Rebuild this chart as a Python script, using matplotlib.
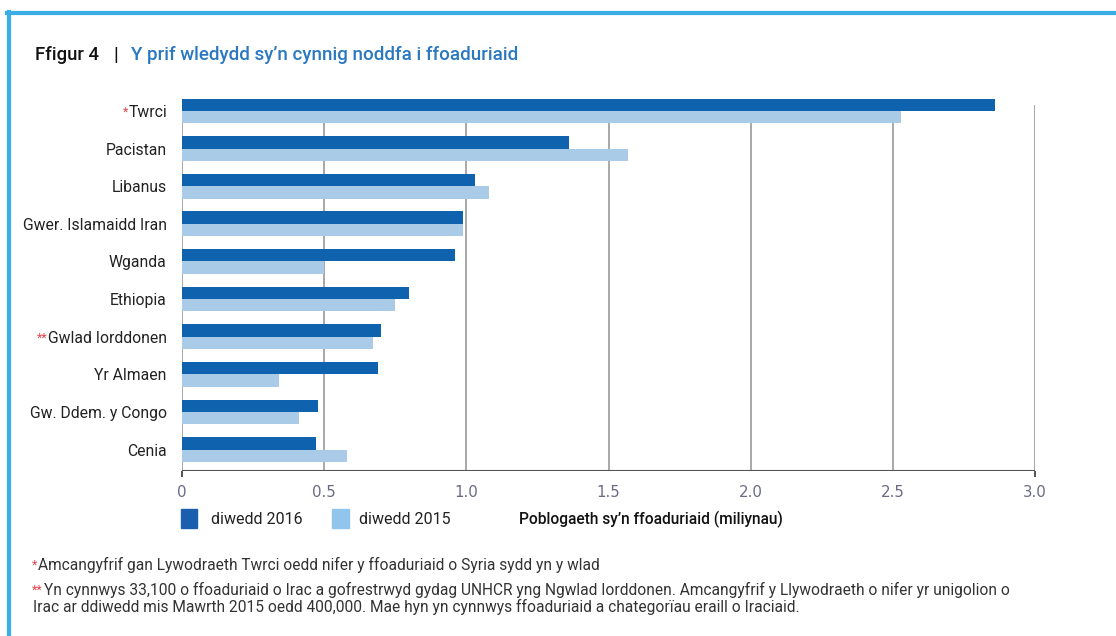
import matplotlib
matplotlib.use('Agg')
import matplotlib.pyplot as plt
import numpy as np

plt.rcParams['font.family'] = ['Roboto', 'DejaVu Sans']

countries = ['Twrci', 'Pacistan', 'Libanus', 'Gwer. Islamaidd Iran', 'Wganda',
             'Ethiopia', 'Gwlad Iorddonen', 'Yr Almaen', 'Gw. Ddem. y Congo', 'Cenia']
stars = ['*', '', '', '', '', '', '**', '', '', '']
end_2016 = [2.86, 1.36, 1.03, 0.99, 0.96, 0.80, 0.70, 0.69, 0.48, 0.47]
end_2015 = [2.53, 1.57, 1.08, 0.99, 0.50, 0.75, 0.67, 0.34, 0.41, 0.58]
xticks = [0, 0.5, 1.0, 1.5, 2.0, 2.5, 3.0]
xtick_labels = ['0', '0.5', '1.0', '1.5', '2.0', '2.5', '3.0']

dark = '#0f62ae'
light = '#a9cbe8'
red = '#e0474c'

W, H = 1116, 636
fig = plt.figure(figsize=(W / 100, H / 100), dpi=100)

# frame lines (left and top)
fig.add_artist(plt.Line2D([8.5 / W, 8.5 / W], [0, 1 - 12 / H], color='#3aaee6', lw=3))
fig.add_artist(plt.Line2D([7 / W, 1], [1 - 12.5 / H, 1 - 12.5 / H], color='#3aaee6', lw=3))

ax = fig.add_axes([182 / W, 1 - 471 / H, (1035 - 182) / W, (471 - 91) / H])

n = len(countries)
y = np.arange(n)[::-1]
h = 0.33
ax.barh(y + h / 2, end_2016, height=h, color=dark, zorder=3)
ax.barh(y - h / 2, end_2015, height=h, color=light, zorder=3)

ax.set_xlim(0, 3.0)
ax.set_ylim(-0.57, 9.53)
for xv in xticks:
    ax.vlines(xv, -0.57, 9.16, color='#9a9a9a', lw=1.2, zorder=1)
ax.vlines([0, 3.0], -0.72, -0.57, color='#444444', lw=1.3, clip_on=False)
ax.axhline(-0.57, color='#555555', lw=1.5, zorder=4)

for s in ax.spines.values():
    s.set_visible(False)
ax.set_xticks(xticks)
ax.set_xticklabels(xtick_labels, color='#6a6a85', fontsize=10.8, family='DejaVu Sans')
ax.tick_params(axis='x', length=0, pad=10)
ax.set_yticks(y)
ax.set_yticklabels(countries, fontsize=11.3, color='#222222')
ax.tick_params(axis='y', length=0, pad=11)

fig.canvas.draw()
for lab, st in zip(ax.get_yticklabels(), stars):
    if st:
        ax.annotate(st, xy=(0, 0.5), xycoords=lab, ha='right', va='center',
                    fontsize=9, color=red)

# title
fig.text(35 / W, 1 - 55 / H, 'Ffigur 4', fontsize=13.3, fontweight='medium',
         color='#111111', va='center')
fig.text(113 / W, 1 - 55 / H, '|', fontsize=13.3, fontweight='medium',
         color='#111111', va='center')
fig.text(131 / W, 1 - 55 / H, "Y prif wledydd sy\u2019n cynnig noddfa i ffoaduriaid",
         fontsize=13.5, fontweight='medium', color='#2a78c0', va='center')

# legend
ly = 1 - 519 / H
fig.add_artist(plt.Rectangle((181 / W, 1 - 528 / H), 16 / W, 19 / H, color='#1a5fad'))
fig.text(211 / W, ly, 'diwedd 2016', fontsize=11.5, color='#222222', va='center')
fig.add_artist(plt.Rectangle((332 / W, 1 - 528 / H), 17 / W, 19 / H, color='#92c5ec'))
fig.text(359 / W, ly, 'diwedd 2015', fontsize=11.5, color='#222222', va='center')
fig.text(519 / W, ly, "Poblogaeth sy\u2019n ffoaduriaid (miliynau)", fontsize=11.2,
         fontweight='medium', color='#111111', va='center')

# footnotes
fs = 11.2
fig.text(32 / W, 1 - 565 / H, '*', fontsize=9, color=red, va='center')
fig.text(38 / W, 1 - 565 / H,
         'Amcangyfrif gan Lywodraeth Twrci oedd nifer y ffoaduriaid o Syria sydd yn y wlad',
         fontsize=fs, color='#333333', va='center')
fig.text(32 / W, 1 - 590 / H, '**', fontsize=9, color=red, va='center')
fig.text(44 / W, 1 - 590 / H,
         'Yn cynnwys 33,100 o ffoaduriaid o Irac a gofrestrwyd gydag UNHCR yng Ngwlad Iorddonen. '
         'Amcangyfrif y Llywodraeth o nifer yr unigolion o',
         fontsize=fs, color='#333333', va='center')
fig.text(33 / W, 1 - 607 / H,
         'Irac ar ddiwedd mis Mawrth 2015 oedd 400,000. Mae hyn yn cynnwys ffoaduriaid a '
         'chategor\u00efau eraill o Iraciaid.',
         fontsize=fs, color='#333333', va='center')

fig.savefig('out.png', dpi=100)
